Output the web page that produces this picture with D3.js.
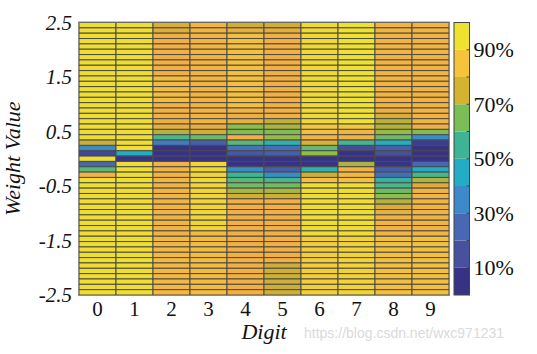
<!doctype html>
<html lang="en">
  <head>
    <meta charset="utf-8" />
    <title>Weight value distribution per digit</title>
    <script src="https://cdn.jsdelivr.net/npm/d3@7/dist/d3.min.js"></script>
    <style>
      body { margin: 0; background: #fff; }
      text { font-family: "Liberation Serif", "Times New Roman", serif; fill: #111; }
      text.mark { font-family: "Liberation Sans", Arial, sans-serif; fill: #dadada; }
    </style>
  </head>
  <body>
    <svg id="main" width="537" height="354"></svg>
    <script>
      // categories and ticks
      const digits = ['0', '1', '2', '3', '4', '5', '6', '7', '8', '9'];
      const weightTicks = [2.5, 1.5, 0.5, -0.5, -1.5, -2.5];
      const colorTicks = [10, 30, 50, 70, 90];
      const colorLevels = [0, 10, 20, 30, 40, 50, 60, 70, 80, 90];

      // share (%) per weight bin, top (2.5) to bottom (-2.5), one array per digit
      const digit0 = [95,95,95,95,95,95,95,95,95,95,95,95,95,95,95,95,95,95,95,95,95,95,76,35,15,95,25,60,85,95,95,95,95,95,95,95,95,95,95,95,95,95,95,95,95,95,95,95,95,95,95];
      const digit1 = [95,95,95,95,95,95,95,95,95,95,95,95,95,95,95,95,95,95,95,95,95,95,95,95,45,5,95,95,95,95,95,95,95,95,95,95,95,95,95,95,95,95,95,95,95,95,95,95,95,95,95];
      const digit2 = [79,80,84,84,84,84,84,84,84,84,87,87,87,87,87,84,84,84,83,82,73,57,30,5,5,5,85,85,85,85,85,85,85,85,85,85,85,85,85,85,86,86,86,86,86,86,86,86,86,86,86];
      const digit3 = [85,85,85,85,85,85,85,85,85,85,85,85,85,85,85,85,85,85,85,82,77,63,22,5,6,5,93,93,93,93,93,93,93,93,93,93,93,93,93,87,87,87,87,87,87,87,87,87,87,87,87];
      const digit4 = [78,82,88,88,88,88,88,88,88,88,88,88,88,88,88,88,85,83,82,68,66,84,60,28,20,5,5,35,55,60,64,71,78,84,84,84,84,84,84,84,84,84,84,84,84,84,84,84,84,84,84];
      const digit5 = [78,81,84,84,84,84,84,84,84,84,84,84,84,84,84,84,84,84,75,72,66,70,50,27,22,5,5,22,35,57,64,71,77,84,84,84,84,84,84,84,84,84,84,84,84,77,77,77,77,77,77];
      const digit6 = [94,94,94,94,94,94,94,94,94,94,94,94,94,94,94,94,94,94,94,90,88,85,80,61,68,5,5,50,77,88,95,95,95,95,95,95,95,95,95,95,91,91,91,91,91,91,91,91,91,91,91];
      const digit7 = [96,96,96,96,96,96,96,96,96,96,96,96,96,96,96,96,96,96,96,90,85,85,56,17,5,5,72,85,86,88,95,95,95,95,95,95,95,95,95,95,92,92,92,92,92,92,92,92,92,92,92];
      const digit8 = [85,85,85,85,85,85,85,85,85,85,85,85,85,85,85,85,83,79,74,73,69,63,46,22,18,5,8,22,27,53,57,63,68,73,79,82,85,85,85,85,88,88,88,88,88,88,88,88,88,88,88];
      const digit9 = [85,85,85,85,85,85,85,85,85,85,85,85,85,85,85,85,85,85,85,84,66,35,12,5,5,5,25,45,57,73,80,85,85,85,85,85,85,85,85,85,88,88,88,88,88,88,88,88,88,88,88];
      const columns = [digit0, digit1, digit2, digit3, digit4, digit5, digit6, digit7, digit8, digit9];

      // colours
      const barColors = ['#363386', '#47519d', '#4968b3', '#3d8acb', '#22acc6', '#3db595', '#7bbd56', '#d4b42f', '#f6c43a', '#eee22f'];
      const cellStops = [0, 10, 18, 25, 33, 45, 55, 63, 68, 73, 78, 84, 88, 92, 96, 100];
      const cellColors = ['#352d84', '#38368c', '#46519e', '#4767b3', '#3c86c8', '#22adc6', '#3bb596', '#6dba65', '#8cbe48', '#b5b23a', '#d4ae32', '#f3af40', '#f4c03c', '#f2d234', '#eee22e', '#eee52c'];

      const margin = { left: 79, right: 449, top: 22.5, bottom: 295 };
      const svg = d3.select('#main');

      const x = d3.scaleBand().domain(digits).range([margin.left, margin.right]);
      const rowIdx = d3.range(digit0.length);
      const yRow = d3.scaleBand().domain(rowIdx).range([margin.top, margin.bottom]);
      const y = d3.scaleLinear().domain([-2.5, 2.5]).range([margin.bottom, margin.top]);
      const color = d3.scaleLinear().domain(cellStops).range(cellColors).clamp(true);

      // heatmap cells
      const cells = svg.append('g');
      columns.forEach((col, i) => {
        cells.append('g').selectAll('rect')
          .data(col)
          .join('rect')
          .attr('x', x(digits[i]))
          .attr('y', (d, k) => yRow(k))
          .attr('width', x.bandwidth())
          .attr('height', yRow.bandwidth())
          .attr('fill', (d) => color(d))
          .attr('stroke', '#4a4a4a')
          .attr('stroke-width', 1);
      });
      svg.append('rect')
        .attr('x', margin.left - 0.5).attr('y', margin.top - 0.5)
        .attr('width', margin.right - margin.left + 1).attr('height', margin.bottom - margin.top + 1)
        .attr('fill', 'none').attr('stroke', '#8a8a8a').attr('stroke-width', 1);

      // axes
      const yAxis = svg.append('g').attr('transform', `translate(${margin.left},0)`)
        .call(d3.axisLeft(y).tickValues(weightTicks).tickSize(0).tickPadding(7));
      yAxis.select('.domain').remove();
      yAxis.selectAll('text').attr('font-size', 21).attr('font-style', 'italic')
        .text((d) => d3.format('.1f')(d).replace('\u2212', '-'));

      const xAxis = svg.append('g').attr('transform', `translate(0,${margin.bottom})`)
        .call(d3.axisBottom(x).tickSize(0).tickPadding(6));
      xAxis.select('.domain').remove();
      xAxis.selectAll('text').attr('font-size', 21);

      svg.append('text')
        .attr('x', (margin.left + margin.right) / 2).attr('y', 339)
        .attr('text-anchor', 'middle').attr('font-size', 22).attr('font-style', 'italic')
        .text('Digit');
      svg.append('text')
        .attr('transform', `translate(20,${(margin.top + margin.bottom) / 2}) rotate(-90)`)
        .attr('text-anchor', 'middle').attr('font-size', 22).attr('font-style', 'italic')
        .text('Weight Value');

      // colour bar
      const cb = { x: 454, w: 15.5 };
      const yc = d3.scaleLinear().domain([0, 100]).range([margin.bottom, margin.top]);
      const bar = svg.append('g');
      bar.selectAll('rect')
        .data(colorLevels)
        .join('rect')
        .attr('x', cb.x).attr('y', (d) => yc(d + 10))
        .attr('width', cb.w).attr('height', (d) => yc(d) - yc(d + 10))
        .attr('fill', (d, i) => barColors[i]);
      bar.append('rect')
        .attr('x', cb.x).attr('y', margin.top)
        .attr('width', cb.w).attr('height', margin.bottom - margin.top)
        .attr('fill', 'none').attr('stroke', '#444').attr('stroke-width', 1);
      bar.selectAll('line')
        .data(colorLevels.slice(1))
        .join('line')
        .attr('x1', cb.x + cb.w - 3).attr('x2', cb.x + cb.w)
        .attr('y1', (d) => yc(d)).attr('y2', (d) => yc(d))
        .attr('stroke', '#444').attr('stroke-width', 1);
      bar.selectAll('text')
        .data(colorTicks)
        .join('text')
        .attr('x', cb.x + cb.w + 4).attr('y', (d) => yc(d))
        .attr('dy', '0.35em').attr('font-size', 22)
        .text((d) => d + '%');

      // watermark
      svg.append('text')
        .attr('class', 'mark')
        .attr('x', 304).attr('y', 338)
        .attr('font-size', 14)
        .text('https://blog.csdn.net/wxc971231');
    </script>
  </body>
</html>
